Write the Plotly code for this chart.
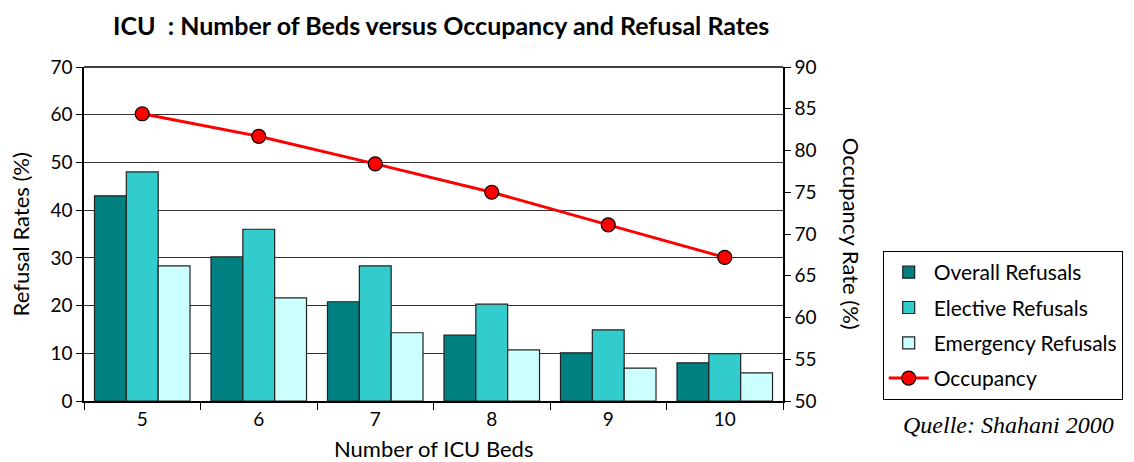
import plotly.graph_objects as go

beds = ["5", "6", "7", "8", "9", "10"]
overall = [43.0, 30.2, 20.8, 13.8, 10.1, 8.0]
elective = [48.0, 36.0, 28.3, 20.3, 14.9, 9.9]
emergency = [28.3, 21.6, 14.3, 10.7, 6.9, 5.9]
occupancy = [84.4, 81.7, 78.4, 75.0, 71.1, 67.2]

font = "Lato, Open Sans, sans-serif"
edge = dict(color="#222222", width=1.2)

fig = go.Figure()
fig.add_trace(go.Bar(x=beds, y=overall, name="Overall Refusals", legendgroup="a",
                     marker=dict(color="#008080", line=edge)))
fig.add_trace(go.Bar(x=beds, y=elective, name="Elective Refusals", legendgroup="b",
                     marker=dict(color="#33CCCC", line=edge)))
fig.add_trace(go.Bar(x=beds, y=emergency, name="Emergency Refusals", legendgroup="c",
                     marker=dict(color="#CCFFFF", line=edge)))
fig.add_trace(go.Scatter(x=beds, y=occupancy, name="Occupancy", yaxis="y2",
                         legendgroup="d", mode="lines+markers",
                         line=dict(color="#FF0000", width=3),
                         marker=dict(color="#FF0000", size=14,
                                     line=dict(color="#000000", width=1.2))))

# page body has an 8px margin, so the figure is sized to fit inside it
fig.update_layout(
    width=1126, height=454,
    margin=dict(l=76, r=350, t=59, b=61),
    paper_bgcolor="white", plot_bgcolor="white",
    font=dict(family=font, size=19, color="black"),
    barmode="group", bargap=0.18, bargroupgap=0,
    title=dict(text="<b>ICU  : Number of Beds versus Occupancy and Refusal Rates</b>",
               x=0.511, xref="paper", xanchor="center", y=0.96, yanchor="middle",
               font=dict(size=25)),
    xaxis=dict(tickson="boundaries", ticks="outside", ticklen=7, tickcolor="black",
               showline=True, linecolor="black", linewidth=1.5),
    yaxis=dict(range=[0, 70], dtick=10, ticks="outside", ticklen=6, tickcolor="black",
               showline=True, linecolor="black", linewidth=1.5,
               showgrid=True, gridcolor="#333333", gridwidth=1, zeroline=False),
    yaxis2=dict(range=[50, 90], dtick=5, overlaying="y", side="right",
                ticks="outside", ticklen=6, tickcolor="black",
                showline=True, linecolor="black", linewidth=1.5,
                showgrid=False, zeroline=False),
    # inside half of the crossing ticks on the right axis
    yaxis3=dict(range=[50, 90], dtick=5, overlaying="y", side="right",
                ticks="inside", ticklen=6, tickcolor="black",
                showticklabels=False, showline=False, showgrid=False, zeroline=False),
    legend=dict(x=1.141, y=0.449, xanchor="left", yanchor="top",
                bordercolor="black", borderwidth=1, bgcolor="white",
                font=dict(size=21), tracegroupgap=5, itemwidth=40),
    shapes=[dict(type="line", xref="paper", yref="paper", x0=0, x1=1, y0=1, y1=1,
                 line=dict(color="black", width=1.5))],
    annotations=[
        dict(text="Refusal Rates (%)", textangle=-90, xref="paper", yref="paper",
             x=-0.091, y=0.5, xanchor="center", yanchor="middle", showarrow=False,
             font=dict(size=22)),
        dict(text="Occupancy Rate (%)", textangle=90, xref="paper", yref="paper",
             x=1.099, y=0.5, xanchor="center", yanchor="middle", showarrow=False,
             font=dict(size=22)),
        dict(text="Number of ICU Beds", xref="paper", yref="paper",
             x=0.5, y=-0.141, xanchor="center", yanchor="middle", showarrow=False,
             font=dict(size=22)),
        dict(text="<i>Quelle: Shahani 2000</i>", xref="paper", yref="paper",
             x=1.323, y=-0.072, xanchor="center", yanchor="middle", showarrow=False,
             font=dict(family="Liberation Serif, serif", size=24)),
    ],
)

fig.write_html("out.html")
